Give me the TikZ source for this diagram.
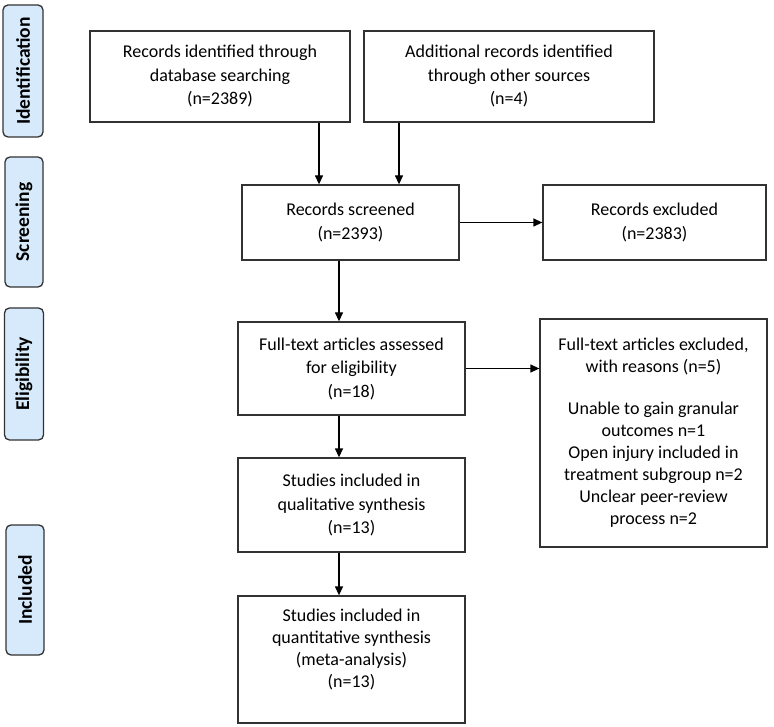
\documentclass[tikz,border=0pt]{standalone}
\usepackage{fontspec}
\setmainfont{Carlito}
\usetikzlibrary{arrows.meta,calc}
\definecolor{lblfill}{RGB}{214,234,252}
\definecolor{edgegray}{RGB}{50,50,50}
\begin{document}
\begin{tikzpicture}[x=1pt,y=-1pt,
  box/.style={draw=edgegray,line width=1.3pt,align=center,inner sep=0pt,
    font=\fontsize{18}{23.5}\selectfont},
  tightbox/.style={box,font=\fontsize{18}{22}\selectfont},
  phase/.style={draw=edgegray,fill=lblfill,rounded corners=5pt,line width=1.3pt,
    rotate=90,inner sep=0pt,font=\fontsize{19.5}{22}\selectfont\bfseries},
  arr/.style={-{Triangle[length=9pt,width=8pt]},line width=1.3pt,black}]
\useasboundingbox (0,0) rectangle (774,727);

% phase labels
\node[phase,minimum width=132pt,minimum height=40pt] (p1) at (23,71) {Identification};
\node[phase,minimum width=130pt,minimum height=38pt] (p2) at (24,222) {Screening};
\node[phase,minimum width=132pt,minimum height=39pt] (p3) at (24,374) {Eligibility};
\node[phase,minimum width=130pt,minimum height=38pt] (p4) at (25,590) {Included};

% boxes
\node[box,minimum width=260pt,minimum height=91pt] (db) at (220,76.5)
  {Records identified through\\database searching\\(n=2389)};
\node[box,minimum width=290pt,minimum height=91pt] (other) at (509,76.5)
  {Additional records identified\\through other sources\\(n=4)};
\node[box,minimum width=217pt,minimum height=75pt] (scr) at (350.5,222.5)
  {Records screened\\(n=2393)};
\node[box,minimum width=223pt,minimum height=75pt] (exc) at (654.5,222.5)
  {Records excluded\\(n=2383)};
\node[box,minimum width=227pt,minimum height=93pt] (ft) at (351.5,368.5)
  {Full-text articles assessed\\for eligibility\\(n=18)};
\node[tightbox,minimum width=227pt,minimum height=228pt] (ftx) at (653.5,433)
  {Full-text articles excluded,\\with reasons (n=5)\\[20pt]Unable to gain granular\\outcomes n=1\\Open injury included in\\treatment subgroup n=2\\Unclear peer-review\\process n=2};
\node[box,minimum width=227pt,minimum height=94pt] (qual) at (351.5,505)
  {Studies included in\\qualitative synthesis\\(n=13)};
\node[tightbox,minimum width=227pt,minimum height=127pt] (quant) at (351.5,659.5)
  {Studies included in\\quantitative synthesis\\(meta-analysis)\\(n=13)\\\mbox{}};

% arrow columns
\coordinate (a1) at (319,0);
\coordinate (a2) at (399,0);
\coordinate (a3) at (339,0);

\draw[arr] (a1 |- db.south) -- (a1 |- scr.north);
\draw[arr] (a2 |- other.south) -- (a2 |- scr.north);
\draw[arr] (scr.east) -- (scr.east -| exc.west);
\draw[arr] (a3 |- scr.south) -- (a3 |- ft.north);
\draw[arr] (ft.east) -- (ft.east -| ftx.west);
\draw[arr] (a3 |- ft.south) -- (a3 |- qual.north);
\draw[arr] (a3 |- qual.south) -- (a3 |- quant.north);
\end{tikzpicture}
\end{document}
